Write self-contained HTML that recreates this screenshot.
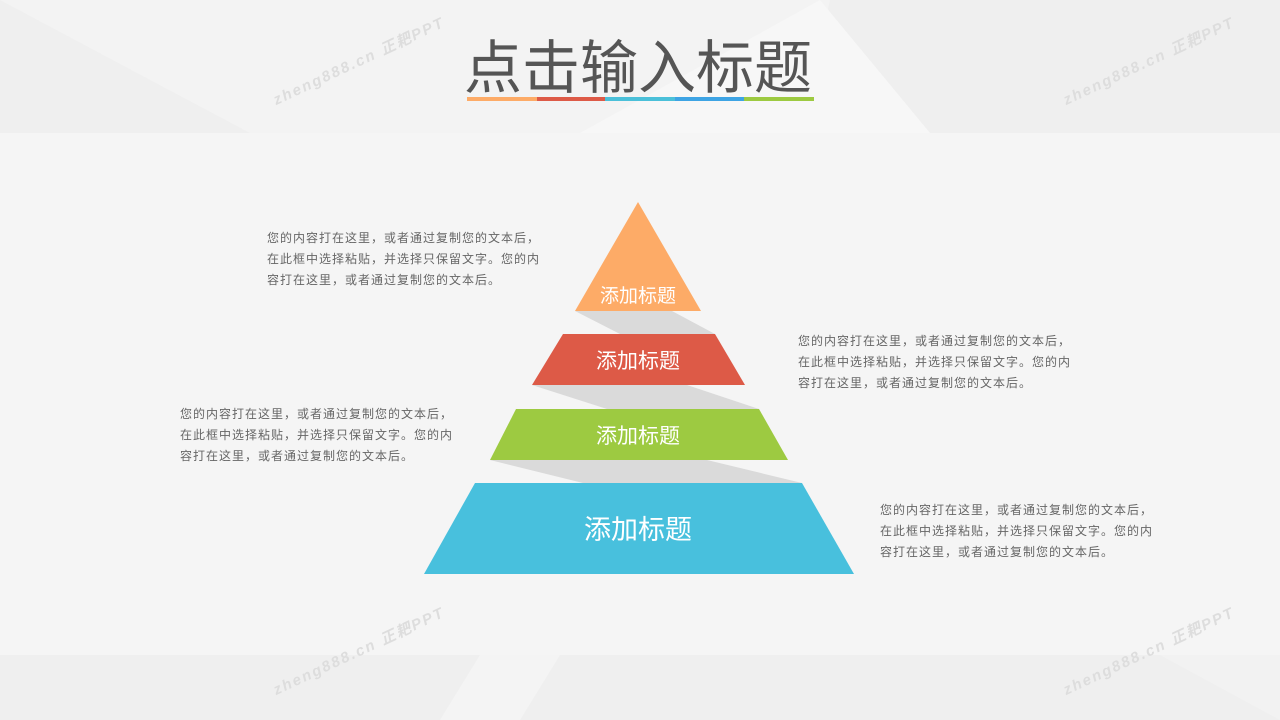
<!DOCTYPE html>
<html><head><meta charset="utf-8"><style>
body{margin:0;width:1280px;height:720px;overflow:hidden;background:#f5f5f5;font-family:"Liberation Sans","Noto Sans CJK SC",sans-serif;position:relative}
.t{position:absolute;font-size:12px;color:#666;line-height:21px;white-space:nowrap;letter-spacing:1px}
.wm{position:absolute;font-size:15px;color:#ddd;font-weight:bold;transform:rotate(-25deg);letter-spacing:2px;white-space:nowrap;font-style:italic}
</style></head><body>
<svg width="1280" height="720" style="position:absolute;left:0;top:0">
<rect x="0" y="0" width="1280" height="133" fill="#efefef"/>
<polygon points="0,0 250,133 800,133 830,0" fill="#f3f3f3"/>
<polygon points="580,133 930,133 820,0" fill="#f7f7f7"/>
<rect x="0" y="655" width="1280" height="65" fill="#efefef"/>
<polygon points="440,720 480,655 560,655 520,720" fill="#f4f4f4"/>
<polygon points="1160,655 1280,655 1280,720" fill="#f2f2f2"/>
<g fill="#dadada">
<polygon points="575,311 672,311 715,334 620,334"/>
<polygon points="532,385 687,385 759,409 607,409"/>
<polygon points="490,460 707,460 802,483 583,483"/>
</g>
<polygon points="638,202 701,311 575,311" fill="#fdab67"/>
<polygon points="563,334 715,334 745,385 532,385" fill="#dd5a47"/>
<polygon points="516,409 759,409 788,460 490,460" fill="#9dca41"/>
<polygon points="475,483 802,483 854,574 424,574" fill="#48c0dd"/>
<g font-family="Liberation Sans,Noto Sans CJK SC,sans-serif" fill="#fff" text-anchor="middle">
<text x="638" y="302" font-size="19">添加标题</text>
<text x="638" y="368" font-size="21">添加标题</text>
<text x="638" y="443" font-size="21">添加标题</text>
<text x="638" y="539" font-size="27">添加标题</text>
<text x="638" y="88" font-size="58" fill="#555">点击输入标题</text>
</g>
<rect x="467" y="97" width="70" height="4" fill="#fdab67"/>
<rect x="537" y="97" width="68" height="4" fill="#dd5a47"/>
<rect x="605" y="97" width="70" height="4" fill="#4bc0d9"/>
<rect x="675" y="97" width="69" height="4" fill="#3ea4e4"/>
<rect x="744" y="97" width="70" height="4" fill="#9dca41"/>
</svg>
<div class="wm" style="left:265px;top:50px">zheng888.cn 正耙PPT</div>
<div class="wm" style="left:1055px;top:50px">zheng888.cn 正耙PPT</div>
<div class="wm" style="left:265px;top:640px">zheng888.cn 正耙PPT</div>
<div class="wm" style="left:1055px;top:640px">zheng888.cn 正耙PPT</div>
<div class="t" style="left:267px;top:228px">您的内容打在这里，或者通过复制您的文本后，<br>在此框中选择粘贴，并选择只保留文字。您的内<br>容打在这里，或者通过复制您的文本后。</div>
<div class="t" style="left:798px;top:331px">您的内容打在这里，或者通过复制您的文本后，<br>在此框中选择粘贴，并选择只保留文字。您的内<br>容打在这里，或者通过复制您的文本后。</div>
<div class="t" style="left:180px;top:404px">您的内容打在这里，或者通过复制您的文本后，<br>在此框中选择粘贴，并选择只保留文字。您的内<br>容打在这里，或者通过复制您的文本后。</div>
<div class="t" style="left:880px;top:500px">您的内容打在这里，或者通过复制您的文本后，<br>在此框中选择粘贴，并选择只保留文字。您的内<br>容打在这里，或者通过复制您的文本后。</div>
</body></html>
